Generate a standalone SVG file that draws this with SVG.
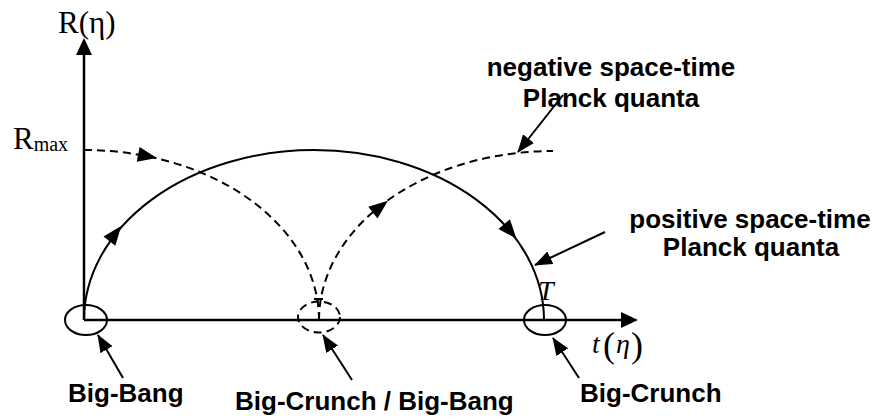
<svg xmlns="http://www.w3.org/2000/svg" width="877" height="419" viewBox="0 0 877 419">
  <style>
    .lbl { font-family: "Liberation Sans", Arial, sans-serif; font-weight: bold; font-size: 26px; fill: #000; }
    .ser { font-family: "Liberation Serif", "Times New Roman", serif; fill: #000; }
    .ax { stroke: #000; stroke-width: 2.5; fill: none; }
    .solid { stroke: #000; stroke-width: 2; fill: none; }
    .dash { stroke: #000; stroke-width: 2; fill: none; stroke-dasharray: 8 5; }
    .ptr { stroke: #000; stroke-width: 2; fill: none; marker-end: url(#ah); }
    .head { fill: #000; stroke: none; }
  </style>
  <defs>
    <marker id="ah" markerUnits="userSpaceOnUse" markerWidth="18" markerHeight="14" refX="17" refY="7" orient="auto">
      <path d="M0,0 L18,7 L0,14 z" fill="#000"/>
    </marker>
    <polygon id="mh" points="10,0 -9,-7.5 -9,7.5"/>
  </defs>
  <rect width="877" height="419" fill="#fff"/>

  <g id="axes">
    <line class="ax" x1="84" y1="320" x2="84" y2="52"/>
    <polygon class="head" points="84,38 76,55 92,55"/>
    <line class="ax" x1="84" y1="320" x2="624" y2="320"/>
    <polygon class="head" points="638,320 621,312 621,328"/>
    <text class="ser" x="58" y="33" font-size="31">R(η)</text>
    <text class="ser" x="13" y="149" font-size="31">R<tspan font-size="20" dy="2">max</tspan></text>
    <text class="ser" font-style="italic" font-size="28" x="592" y="353">t</text>
    <text class="ser" font-size="36" x="603" y="357">(</text>
    <text class="ser" font-style="italic" font-size="28" x="616" y="353">η</text>
    <text class="ser" font-size="36" x="631" y="357">)</text>
  </g>

  <g id="positive-curve">
    <path class="solid" d="M84,320 A230,170 0 0,1 544,320"/>
    <use href="#mh" class="head" transform="translate(115,234) rotate(-52)"/>
    <use href="#mh" class="head" transform="translate(510,231) rotate(50)"/>
    <text class="ser" font-style="italic" font-size="28" x="538" y="300">T</text>
  </g>

  <g id="negative-curves">
    <path class="dash" d="M84,150 A235,170 0 0,1 319,320"/>
    <path class="dash" d="M319,320 A234,169 0 0,1 553,151"/>
    <line class="solid" x1="314" y1="299" x2="323" y2="299"/>
    <use href="#mh" class="head" transform="translate(147,156) rotate(11)"/>
    <use href="#mh" class="head" transform="translate(380,207) rotate(-38)"/>
  </g>

  <g id="big-bang">
    <ellipse class="solid" cx="86" cy="320" rx="21" ry="15"/>
    <text class="lbl" x="68" y="402">Big-Bang</text>
  </g>

  <g id="big-crunch-big-bang">
    <ellipse class="dash" cx="319" cy="317" rx="21" ry="15.5" stroke-dasharray="7 5"/>
    <text class="lbl" x="235" y="410">Big-Crunch / Big-Bang</text>
  </g>

  <g id="big-crunch">
    <ellipse class="solid" cx="545" cy="320" rx="21" ry="15"/>
    <text class="lbl" x="580" y="402">Big-Crunch</text>
  </g>

  <g id="negative-label">
    <text class="lbl" x="611" y="76" text-anchor="middle">negative space-time</text>
    <text class="lbl" x="611" y="107" text-anchor="middle">Planck quanta</text>
  </g>

  <g id="positive-label">
    <text class="lbl" x="750" y="228" text-anchor="middle">positive space-time</text>
    <text class="lbl" x="751" y="256" text-anchor="middle">Planck quanta</text>
  </g>

  <g id="connectors">
    <line class="ptr" x1="563" y1="95" x2="518" y2="152"/>
    <line class="ptr" x1="605" y1="232" x2="535" y2="265"/>
    <line class="ptr" x1="123" y1="378" x2="98" y2="335"/>
    <line class="ptr" x1="352" y1="380" x2="323" y2="335"/>
    <line class="ptr" x1="579" y1="378" x2="553" y2="338"/>
  </g>
</svg>
